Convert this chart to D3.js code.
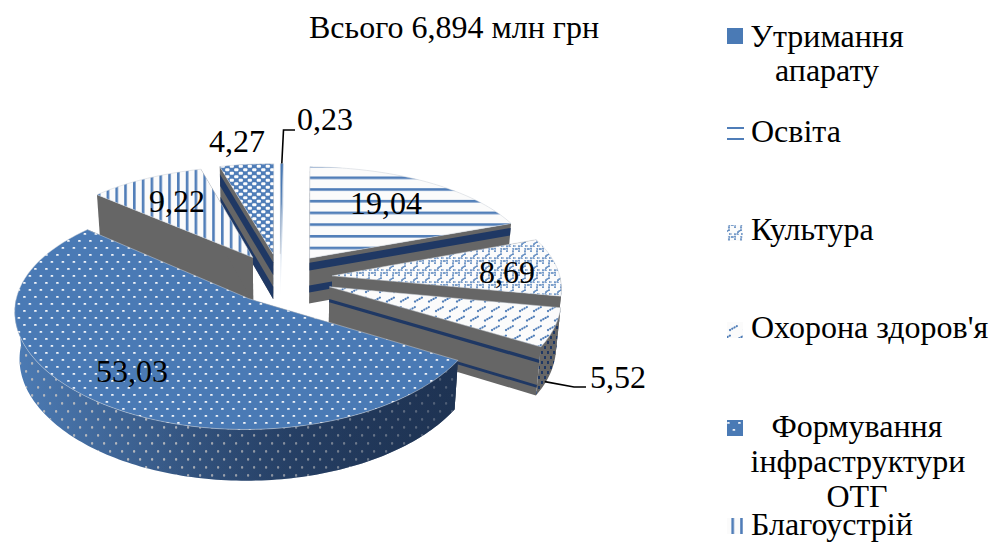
<!DOCTYPE html>
<html lang="uk">
<head>
<meta charset="utf-8">
<title>Всього 6,894 млн грн</title>
<script src="https://cdn.jsdelivr.net/npm/d3@7/dist/d3.min.js"></script>
<style>
  html, body { margin: 0; background: #fff; }
  svg { display: block; }
  text { font-family: "Liberation Serif", serif; font-size: 32px; fill: #000; }
</style>
</head>
<body>
<div id="chart"></div>
<script>
// Budget shares, percent, in clockwise order from twelve o'clock.
const categories = ["Утримання апарату", "Освіта", "Культура", "Охорона здоров'я",
                    "Формування інфраструктури ОТГ", "Благоустрій", "Інше"];
const shares = [0.23, 19.04, 8.69, 5.52, 53.03, 9.22, 4.27];
const shareLabels = ["0,23", "19,04", "8,69", "5,52", "53,03", "9,22", "4,27"];
const chartTitle = "Всього 6,894 млн грн";

// Pie geometry: radius, foreshortened radius, wall height, explosion, perspective.
const W = 997, H = 542;
const cx = 280, cy = 278, R = 228, A = 108, depth = 47, explode = 0.23;
const perspX = 0.10, perspY = 0.13, taper = 0.018;

const BLUE = "#4a7ab5", PALE = "#fbfbfb", GREY = "#666666", NAVY = "#1f3864";

// Fill, wall bands and label placement per slice.
const fills = ["url(#solid)", "url(#hstripe)", "url(#weave)", "url(#dash)", "url(#dots)", "url(#vstripe)", "url(#check)"];
const wallBands = [[], [[0.1, 0.27], [0.6, 0.75]], [], [[0.26, 0.33], [0.78, 0.84]], [], [], [[0.18, 0.46], [0.72, 1]]];
const labelAt = [[297, 130], [350, 214], [479, 283], [590, 388], [96, 382], [149, 212], [209, 152]];

// Legend rows: key position plus text lines.
const legendRows = [
  { key: 0, y: 28,  lines: [["Утримання", 827, 47, "middle"], ["апарату", 827, 81, "middle"]] },
  { key: 1, y: 125, lines: [["Освіта", 751, 142, "start"]] },
  { key: 2, y: 225, lines: [["Культура", 751, 240, "start"]] },
  { key: 3, y: 322, lines: [["Охорона здоров'я", 751, 338, "start"]] },
  { key: 4, y: 420, lines: [["Формування", 857, 437, "middle"], ["інфраструктури", 858, 472, "middle"], ["ОТГ", 857, 507, "middle"]] },
  { key: 5, y: 518, lines: [["Благоустрій", 751, 535, "start"]] }
];

const svg = d3.select("#chart").append("svg").attr("width", W).attr("height", H);
const defs = svg.append("defs");

function tile(id, w, h, draw, bg) {
  const p = defs.append("pattern").attr("id", id).attr("patternUnits", "userSpaceOnUse")
    .attr("width", w).attr("height", h);
  if (bg) p.append("rect").attr("width", w).attr("height", h).attr("fill", bg);
  draw(p);
}
const rect = (p, x, y, w, h, fill, rx) =>
  p.append("rect").attr("x", x).attr("y", y).attr("width", w).attr("height", h).attr("fill", fill).attr("rx", rx || 0);

tile("solid", 4, 4, () => {}, BLUE);
tile("hstripe", 12, 11.7, p => rect(p, 0, 1, 12, 2.6, "#4f7db8"), PALE);
tile("vstripe", 8.8, 12, p => rect(p, 1, 0, 2.6, 12, "#4f7db8"), PALE);
tile("check", 9, 7, p => {
  rect(p, 0.2, 0.3, 4.2, 2.9, "#fdfdfd", 1);
  rect(p, 4.7, 3.8, 4.2, 2.9, "#fdfdfd", 1);
}, "#4f7db8");
tile("weave", 12, 12, p => {
  p.append("path").attr("fill", "none").attr("stroke", "#5482bc")
    .attr("stroke-width", 1.6).attr("stroke-dasharray", "1.7 0.8")
    .attr("d", "M0 9h3v-3h3v-3h3v-3M9 12v-3h3M3 12v-2M9 6h3");
}, PALE);
tile("dash", 14, 19, p => {
  const g = p.append("g").attr("stroke", "#4f7db8").attr("stroke-width", 2.2)
    .attr("stroke-linecap", "round").attr("stroke-dasharray", "0.1 2.5");
  g.append("path").attr("d", "M2 7L9 3");
  g.append("path").attr("d", "M9 16.5L16 12.5");
  g.append("path").attr("d", "M-5 16.5L2 12.5");
}, PALE);
tile("dots", 11, 14, p => {
  rect(p, 1, 2, 2.8, 1.8, "#f4f6fa", 0.9);
  rect(p, 6.5, 9, 2.8, 1.8, "#f4f6fa", 0.9);
}, BLUE);
tile("wallDots", 12, 16, p => {
  rect(p, 1, 2, 2.2, 2.8, "#b4b7bd", 1);
  rect(p, 7, 10, 2.2, 2.8, "#b4b7bd", 1);
});
tile("wallDash", 6, 10, p => {
  rect(p, 1, 1, 2, 3, NAVY);
  rect(p, 4, 6, 2, 3, NAVY);
}, GREY);

const wallShade = defs.append("linearGradient").attr("id", "wallShade")
  .attr("gradientUnits", "userSpaceOnUse").attr("x1", 12).attr("x2", 455).attr("y1", 0).attr("y2", 0);
[[0, "#4d7cb5"], [0.3, "#3b5f8e"], [0.62, "#2a466e"], [1, "#1e3353"]].forEach(([o, c]) =>
  wallShade.append("stop").attr("offset", o).attr("stop-color", c));
const wallDim = defs.append("linearGradient").attr("id", "wallDim")
  .attr("gradientUnits", "userSpaceOnUse").attr("x1", 150).attr("x2", 455).attr("y1", 0).attr("y2", 0);
[[0, 0], [1, 0.7]].forEach(([o, a]) =>
  wallDim.append("stop").attr("offset", o).attr("stop-color", "#1e3353").attr("stop-opacity", a));
const sliverFade = defs.append("linearGradient").attr("id", "sliverFade")
  .attr("x1", 0).attr("x2", 0).attr("y1", 0).attr("y2", 1);
[[0, "#8fadd2"], [1, "#ffffff"]].forEach(([o, c]) =>
  sliverFade.append("stop").attr("offset", o).attr("stop-color", c));

// Ground-plane coordinates (radius = 1) plus height fraction to screen pixels.
function project(X, Y, Z) {
  const sx = 1 / (1 - perspX * Y + taper * Z);
  const sy = 1 / (1 - perspY * Y + taper * Z);
  return [cx + R * X * sx, cy + (A * Y + depth * Z) * sy];
}

const slices = d3.pie().sort(null).startAngle(0).endAngle(2 * Math.PI)(shares).map((d, i) => {
  const mid = (d.startAngle + d.endAngle) / 2;
  return { i, a0: d.startAngle, a1: d.endAngle, ox: explode * Math.sin(mid), oy: -explode * Math.cos(mid) };
});

const rim = (s, a, z) => project(s.ox + Math.sin(a), s.oy - Math.cos(a), z);
const apex = (s, z) => project(s.ox, s.oy, z);
const arcAngles = (a0, a1) => {
  const n = Math.max(2, Math.ceil((a1 - a0) / 0.02));
  return d3.range(n + 1).map(k => a0 + (a1 - a0) * k / n);
};
const line = d3.line().curve(d3.curveLinear);
const closed = pts => line(pts) + "Z";

const pieG = svg.append("g");
const FRONT0 = Math.PI / 2, FRONT1 = 3 * Math.PI / 2;

// Paint slices from the far side of the pie to the near side.
slices.slice().sort((a, b) => d3.ascending(a.oy, b.oy)).forEach(s => {
  const g = pieG.append("g");
  const wallFill = s.i === 0 ? "url(#sliverFade)" : GREY;

  [s.a0, s.a1].forEach(a => {
    const quad = (z0, z1) => closed([apex(s, z0), rim(s, a, z0), rim(s, a, z1), apex(s, z1)]);
    g.append("path").attr("d", quad(0, 1)).attr("fill", wallFill);
    wallBands[s.i].forEach(([z0, z1]) =>
      g.append("path").attr("d", quad(z0, z1)).attr("fill", NAVY));
  });

  const f0 = Math.max(s.a0, FRONT0), f1 = Math.min(s.a1, FRONT1);
  if (f1 > f0) {
    const angles = arcAngles(f0, f1);
    const wall = closed(angles.map(a => rim(s, a, 0)).concat(angles.slice().reverse().map(a => rim(s, a, 1))));
    if (s.i === 4) {
      g.append("path").attr("d", wall).attr("fill", "url(#wallShade)");
      g.append("path").attr("d", wall).attr("fill", "url(#wallDots)");
      g.append("path").attr("d", wall).attr("fill", "url(#wallDim)");
    } else {
      g.append("path").attr("d", wall).attr("fill", s.i === 3 ? "url(#wallDash)" : GREY);
    }
  }

  const top = closed([apex(s, 0)].concat(arcAngles(s.a0, s.a1).map(a => rim(s, a, 0))));
  g.append("path").attr("d", top).attr("fill", fills[s.i])
    .attr("stroke", "#c9ced6").attr("stroke-width", 0.5);
});

// Leader lines for the two labels that sit outside their slices.
const leader = d3.line();
const tip0 = rim(slices[0], (slices[0].a0 + slices[0].a1) / 2, 0);
const tip3 = rim(slices[3], slices[3].a1 - 0.1, 0.95);
svg.append("path").attr("fill", "none").attr("stroke", "#000").attr("stroke-width", 1.6)
  .attr("d", leader([tip0, [283.5, 130], [295, 130]]));
svg.append("path").attr("fill", "none").attr("stroke", "#000").attr("stroke-width", 1.6)
  .attr("d", leader([tip3, [574, 387], [586, 387]]));

// Value labels.
svg.append("g").selectAll("text").data(shareLabels).join("text")
  .attr("x", (d, i) => labelAt[i][0]).attr("y", (d, i) => labelAt[i][1]).text(d => d);

svg.append("text").attr("x", 309).attr("y", 38).text(chartTitle);

// Legend: categories[6] has no row of its own.
const legend = svg.append("g");
legendRows.forEach(row => {
  if (row.key === 1) {
    [2, 13].forEach(dy => legend.append("rect").attr("x", 727).attr("y", row.y + dy)
      .attr("width", 17).attr("height", 2).attr("fill", "#4f7db8"));
  } else {
    legend.append("rect").attr("x", 727).attr("y", row.y).attr("width", 16).attr("height", 16)
      .attr("fill", fills[row.key]).attr("aria-label", categories[row.key]);
  }
  row.lines.forEach(([t, x, y, anchor]) =>
    legend.append("text").attr("x", x).attr("y", y).attr("text-anchor", anchor).text(t));
});
</script>
</body>
</html>
